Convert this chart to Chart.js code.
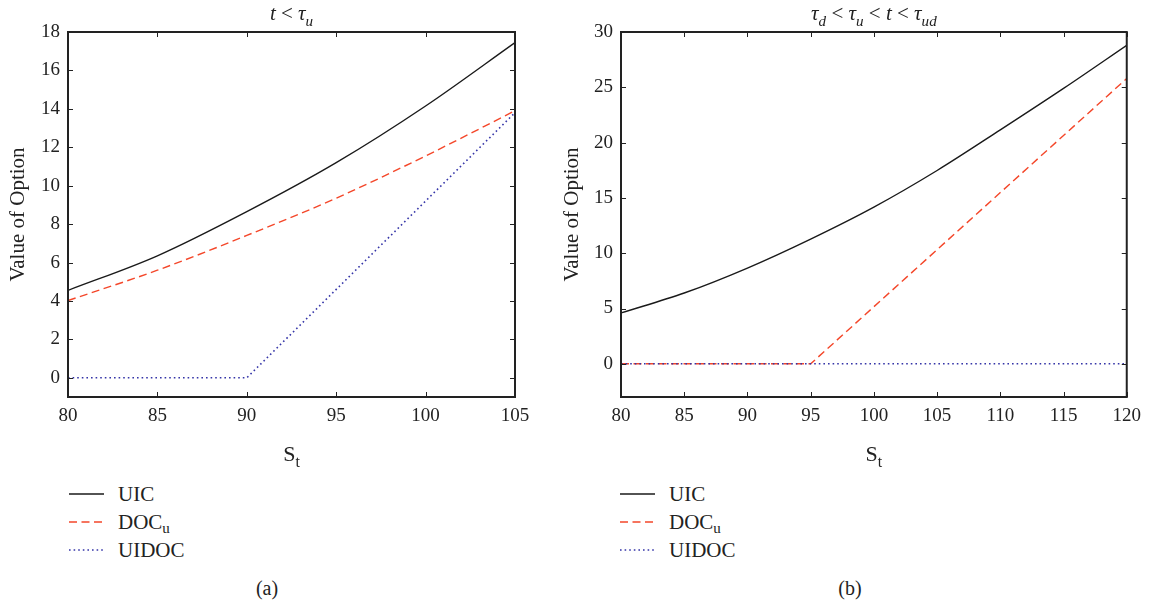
<!DOCTYPE html>
<html>
<head>
<meta charset="utf-8">
<script src="https://cdn.jsdelivr.net/npm/chart.js@4.4.1/dist/chart.umd.min.js"></script>
<style>
  html, body { margin:0; padding:0; background:#fff; }
  body { width:1149px; height:606px; position:relative; overflow:hidden; font-family:'Liberation Serif', serif; color:#222; }
  .panel { position:absolute; top:0; }
  .legend { position:absolute; top:480px; font-size:21px; }
  .legend .row { height:28px; display:flex; align-items:center; }
  .legend svg { display:block; margin-right:14px; }
  .legend sub { font-size:15px; vertical-align:-4px; line-height:0; }
  .cap { position:absolute; top:577px; font-size:20px; transform:translateX(-50%); }
</style>
</head>
<body>
<div class="panel" style="left:0;width:560px;height:470px;"><canvas id="cA" width="560" height="470"></canvas></div>
<div class="panel" style="left:560px;width:589px;height:470px;"><canvas id="cB" width="589" height="470"></canvas></div>
<div class="legend" id="legA" style="left:69px;"></div>
<div class="legend" id="legB" style="left:620px;"></div>
<div class="cap" style="left:267px;">(a)</div>
<div class="cap" style="left:850px;">(b)</div>
<script>
// ---- data ----
const SERIES_NAMES = ['UIC', 'DOC', 'UIDOC'];
const SERIES_SUBS  = ['', 'u', ''];

// panel (a): t < tau_u
const S_A      = [80, 85, 90, 95, 100, 105];
const UIC_A    = [4.55, 6.35, 8.65, 11.2, 14.15, 17.45];
const DOC_A    = [4.02, 5.6, 7.41, 9.35, 11.55, 13.9];
const UIDOC_A  = [0, 0, 0, 4.6, 9.2, 13.8];
const X_TICKS_A = [80, 85, 90, 95, 100, 105];
const Y_TICKS_A = [0, 2, 4, 6, 8, 10, 12, 14, 16, 18];

// panel (b): tau_d < tau_u < t < tau_ud
const S_B      = [80, 85, 90, 95, 100, 105, 110, 115, 120];
const UIC_B    = [4.6, 6.4, 8.66, 11.28, 14.17, 17.48, 21.15, 24.9, 28.8];
const DOC_B    = [0, 0, 0, 0, 5.16, 10.32, 15.48, 20.64, 25.8];
const UIDOC_B  = [0, 0, 0, 0, 0, 0, 0, 0, 0];
const X_TICKS_B = [80, 85, 90, 95, 100, 105, 110, 115, 120];
const Y_TICKS_B = [0, 5, 10, 15, 20, 25, 30];

// ---- styling ----
const FONT = "'Liberation Serif', serif";
const INK = '#222';
const COLORS = ['#1a1a1a', '#f4472a', '#3535a8'];
const DASHES = [[], [8, 4.5], [1.6, 3]];

const pts = (xs, ys) => xs.map((x, i) => ({ x: x, y: ys[i] }));

function drawRich(ctx, segs, cx, baseY, size) {
  const fontOf = s => (s.it ? 'italic ' : '') + (s.sub ? size * 0.72 : size) + 'px ' + FONT;
  let total = 0;
  segs.forEach(s => { ctx.font = fontOf(s); s.w = ctx.measureText(s.t).width; total += s.w; });
  let x = cx - total / 2;
  ctx.fillStyle = INK;
  ctx.textBaseline = 'alphabetic';
  ctx.textAlign = 'left';
  segs.forEach(s => {
    ctx.font = fontOf(s);
    ctx.fillText(s.t, x, baseY + (s.sub ? size * 0.28 : 0));
    x += s.w;
  });
}

const decor = {
  id: 'decor',
  afterDraw(chart, args, opts) {
    const ctx = chart.ctx;
    const { left, right, top, bottom } = chart.chartArea;
    const xs = chart.scales.x, ys = chart.scales.y;
    ctx.save();
    ctx.strokeStyle = INK;
    ctx.lineWidth = 1;
    const L = 5;
    ctx.beginPath();
    xs.ticks.forEach(t => {
      const p = Math.round(xs.getPixelForValue(t.value)) + 0.5;
      ctx.moveTo(p, bottom); ctx.lineTo(p, bottom - L);
      ctx.moveTo(p, top); ctx.lineTo(p, top + L);
    });
    ys.ticks.forEach(t => {
      const p = Math.round(ys.getPixelForValue(t.value)) + 0.5;
      ctx.moveTo(left, p); ctx.lineTo(left + L, p);
      ctx.moveTo(right, p); ctx.lineTo(right - L, p);
    });
    ctx.stroke();
    ctx.lineWidth = 2;
    ctx.strokeRect(left, top, right - left, bottom - top);
    const cx = (left + right) / 2;
    drawRich(ctx, opts.title, cx, 20, 21);
    drawRich(ctx, opts.xTitle, cx, 461, 22);
    ctx.restore();
  }
};

function makeChart(id, S, series, xTicks, yTicks, xMin, xMax, yMin, yMax, yAxisWidth, padRight, titleSegs, curved, yTitlePad) {
  const datasets = series.map((ys, i) => ({
    label: SERIES_NAMES[i] + SERIES_SUBS[i],
    data: pts(S, ys),
    borderColor: COLORS[i],
    borderWidth: i === 2 ? 1.6 : 1.4,
    borderDash: DASHES[i],
    pointRadius: 0,
    fill: false,
    tension: 0,
    cubicInterpolationMode: curved[i] ? 'monotone' : 'default',
    order: i === 2 ? 0 : i + 1
  }));
  return new Chart(document.getElementById(id), {
    type: 'line',
    data: { datasets: datasets },
    plugins: [decor],
    options: {
      responsive: false,
      animation: false,
      devicePixelRatio: 1,
      layout: { padding: { top: 32, right: padRight, left: 0, bottom: 0 } },
      plugins: {
        legend: { display: false },
        tooltip: { enabled: false },
        title: { display: false },
        decor: { title: titleSegs, xTitle: [{ t: 'S' }, { t: 't', sub: true }] }
      },
      scales: {
        x: {
          type: 'linear', min: xMin, max: xMax,
          afterBuildTicks: s => { s.ticks = xTicks.map(v => ({ value: v })); },
          afterFit: s => { s.height = 73; },
          grid: { drawOnChartArea: false, drawTicks: false },
          border: { display: false },
          ticks: { font: { family: FONT, size: 19 }, color: INK, padding: 8, maxRotation: 0, autoSkip: false }
        },
        y: {
          type: 'linear', min: yMin, max: yMax,
          afterBuildTicks: s => { s.ticks = yTicks.map(v => ({ value: v })); },
          afterFit: s => { s.width = yAxisWidth; },
          grid: { drawOnChartArea: false, drawTicks: false },
          border: { display: false },
          ticks: { font: { family: FONT, size: 19 }, color: INK, padding: 8, autoSkip: false },
          title: { display: true, text: 'Value of Option', color: INK, font: { family: FONT, size: 21 }, padding: { top: yTitlePad, bottom: 0 } }
        }
      }
    }
  });
}

const titleA = [{ t: 't', it: true }, { t: ' < ' }, { t: 'τ', it: true }, { t: 'u', it: true, sub: true }];
const titleB = [
  { t: 'τ', it: true }, { t: 'd', it: true, sub: true }, { t: ' < ' },
  { t: 'τ', it: true }, { t: 'u', it: true, sub: true }, { t: ' < ' },
  { t: 't', it: true }, { t: ' < ' },
  { t: 'τ', it: true }, { t: 'ud', it: true, sub: true }
];

makeChart('cA', S_A, [UIC_A, DOC_A, UIDOC_A], X_TICKS_A, Y_TICKS_A, 80, 105, -1, 18, 68, 45, titleA, [true, true, false], 6);
makeChart('cB', S_B, [UIC_B, DOC_B, UIDOC_B], X_TICKS_B, Y_TICKS_B, 80, 120, -3, 30, 61, 20, titleB, [true, false, false], 0);

function buildLegend(id, lineLen) {
  const el = document.getElementById(id);
  SERIES_NAMES.forEach((name, i) => {
    const row = document.createElement('div');
    row.className = 'row';
    const svgNS = 'http://www.w3.org/2000/svg';
    const svg = document.createElementNS(svgNS, 'svg');
    svg.setAttribute('width', lineLen); svg.setAttribute('height', 4);
    const ln = document.createElementNS(svgNS, 'line');
    ln.setAttribute('x1', 0); ln.setAttribute('x2', lineLen);
    ln.setAttribute('y1', 2); ln.setAttribute('y2', 2);
    ln.setAttribute('stroke', COLORS[i]);
    ln.setAttribute('stroke-width', 1.4);
    if (DASHES[i].length) ln.setAttribute('stroke-dasharray', DASHES[i].join(' '));
    svg.appendChild(ln);
    row.appendChild(svg);
    const span = document.createElement('span');
    span.textContent = name;
    if (SERIES_SUBS[i]) { const sb = document.createElement('sub'); sb.textContent = SERIES_SUBS[i]; span.appendChild(sb); }
    row.appendChild(span);
    el.appendChild(row);
  });
}
buildLegend('legA', 35);
buildLegend('legB', 35);
</script>
</body>
</html>
